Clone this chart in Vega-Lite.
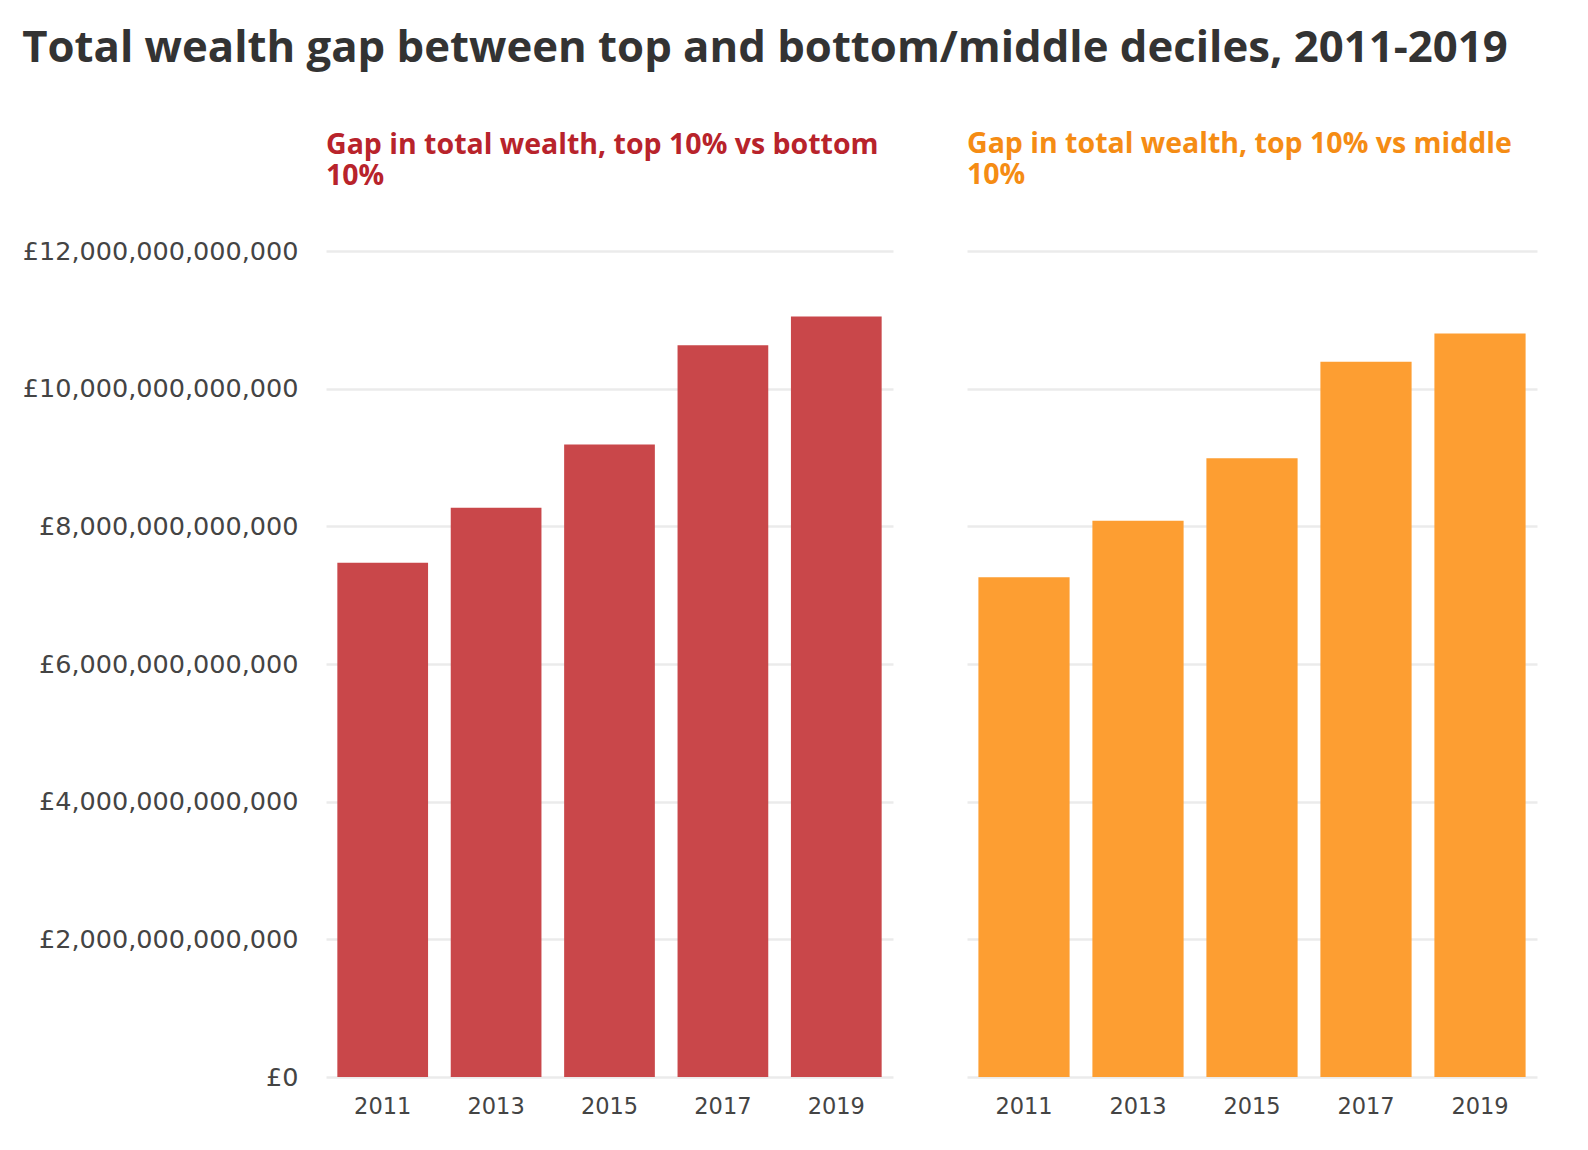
{
  "$schema": "https://vega.github.io/schema/vega-lite/v6.json",
  "background": "white",
  "padding": {"left": 22, "top": 26, "right": 10, "bottom": 10},
  "title": {
    "text": "Total wealth gap between top and bottom/middle deciles, 2011-2019",
    "anchor": "start",
    "frame": "bounds",
    "font": "Open Sans",
    "fontSize": 43.7,
    "fontWeight": "bold",
    "color": "#333333",
    "offset": 59
  },
  "datasets": {
    "gaps": [
      {"year": "2011", "comparison": "bottom", "gap": 7.47e12},
      {"year": "2013", "comparison": "bottom", "gap": 8.27e12},
      {"year": "2015", "comparison": "bottom", "gap": 9.19e12},
      {"year": "2017", "comparison": "bottom", "gap": 10.63e12},
      {"year": "2019", "comparison": "bottom", "gap": 11.05e12},
      {"year": "2011", "comparison": "middle", "gap": 7.26e12},
      {"year": "2013", "comparison": "middle", "gap": 8.08e12},
      {"year": "2015", "comparison": "middle", "gap": 8.99e12},
      {"year": "2017", "comparison": "middle", "gap": 10.39e12},
      {"year": "2019", "comparison": "middle", "gap": 10.80e12}
    ]
  },
  "data": {"name": "gaps"},
  "spacing": 74,
  "hconcat": [
    {
      "width": 567,
      "height": 826,
      "title": {
        "text": ["Gap in total wealth, top 10% vs bottom", "10%"],
        "anchor": "start",
        "frame": "group",
        "font": "Open Sans",
        "fontSize": 28.5,
        "fontWeight": "bold",
        "color": "#b8232b",
        "lineHeight": 31,
        "offset": 49
      },
      "transform": [{"filter": "datum.comparison === 'bottom'"}],
      "mark": {"type": "bar", "color": "#c9474a"},
      "encoding": {
        "x": {
          "field": "year", "type": "ordinal",
          "scale": {"paddingInner": 0.2, "paddingOuter": 0.1},
          "axis": {"title": null, "labelAngle": 0, "ticks": false, "domain": false, "labelPadding": 18, "labelFont": "DejaVu Sans", "labelFontSize": 22.5, "labelColor": "#444444"}
        },
        "y": {
          "field": "gap", "type": "quantitative",
          "scale": {"domain": [0, 12000000000000], "nice": false},
          "axis": {
            "title": null, "values": [0, 2e12, 4e12, 6e12, 8e12, 10e12, 12e12],
            "labelExpr": "'£' + format(datum.value, ',.0f')",
            "labelLimit": 0,
            "ticks": false, "domain": false, "labelPadding": 28,
            "labelFont": "DejaVu Sans", "labelFontSize": 25.5, "labelColor": "#444444",
            "gridColor": "#ebebeb", "gridWidth": 2.5
          }
        }
      }
    },
    {
      "width": 570,
      "height": 826,
      "title": {
        "text": ["Gap in total wealth, top 10% vs middle", "10%"],
        "anchor": "start",
        "frame": "group",
        "font": "Open Sans",
        "fontSize": 28.5,
        "fontWeight": "bold",
        "color": "#f58c14",
        "lineHeight": 31,
        "offset": 62
      },
      "transform": [{"filter": "datum.comparison === 'middle'"}],
      "mark": {"type": "bar", "color": "#fd9e32"},
      "encoding": {
        "x": {
          "field": "year", "type": "ordinal",
          "scale": {"paddingInner": 0.2, "paddingOuter": 0.1},
          "axis": {"title": null, "labelAngle": 0, "ticks": false, "domain": false, "labelPadding": 18, "labelFont": "DejaVu Sans", "labelFontSize": 22.5, "labelColor": "#444444"}
        },
        "y": {
          "field": "gap", "type": "quantitative",
          "scale": {"domain": [0, 12000000000000], "nice": false},
          "axis": {
            "title": null, "values": [0, 2e12, 4e12, 6e12, 8e12, 10e12, 12e12],
            "labels": false, "ticks": false, "domain": false,
            "gridColor": "#ebebeb", "gridWidth": 2.5
          }
        }
      }
    }
  ],
  "config": {"view": {"stroke": null}}
}
